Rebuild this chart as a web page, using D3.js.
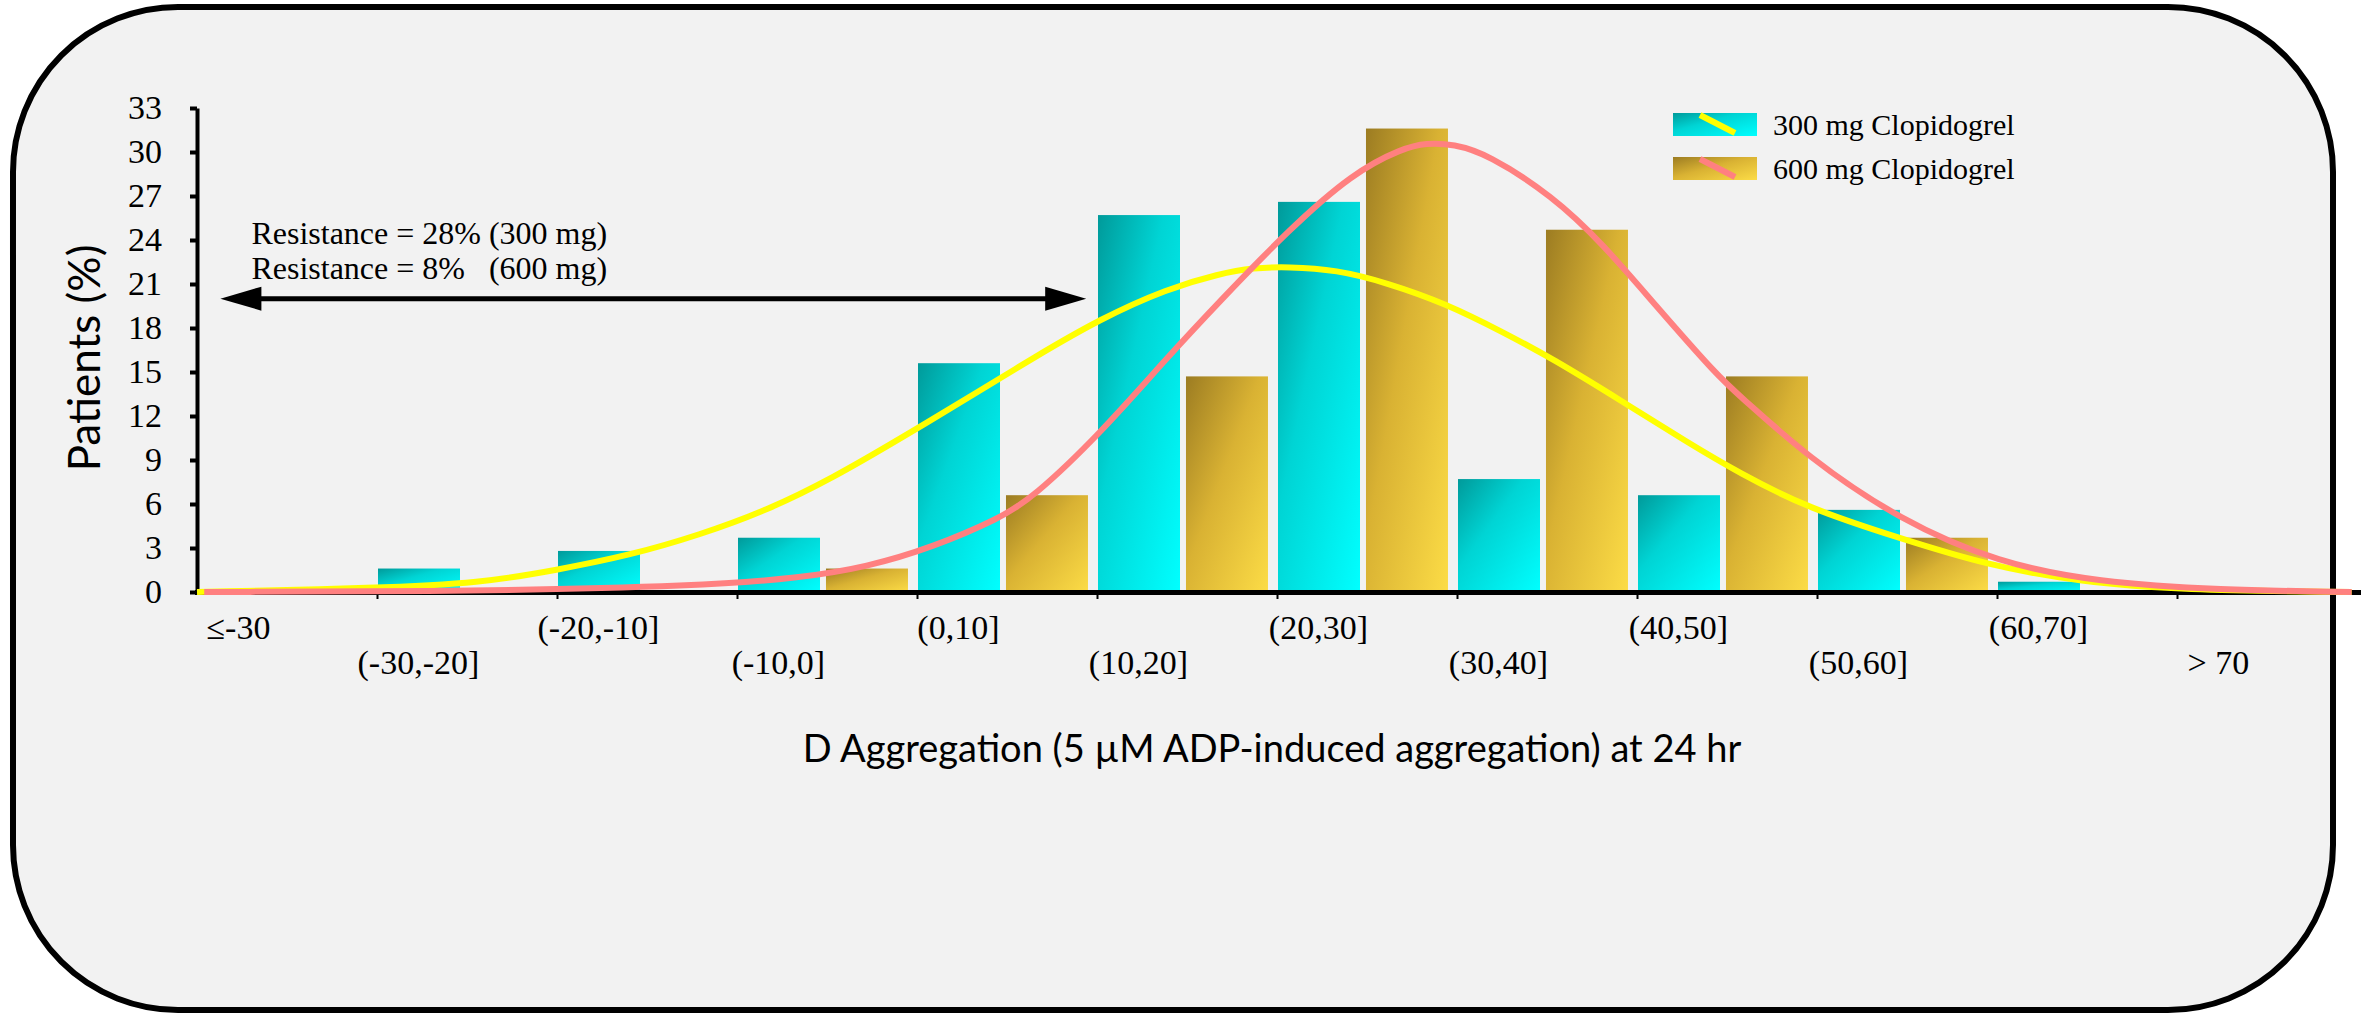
<!DOCTYPE html>
<html>
<head>
<meta charset="utf-8">
<script src="https://cdn.jsdelivr.net/npm/d3@7"></script>
<style>
  html, body { margin: 0; padding: 0; background: #ffffff; }
  svg { display: block; }
</style>
</head>
<body>
<svg id="chart" width="2361" height="1017"></svg>
<script>
// Aggregation change bins (x categories)
const categories = ["≤-30", "(-30,-20]", "(-20,-10]", "(-10,0]", "(0,10]", "(10,20]",
                    "(20,30]", "(30,40]", "(40,50]", "(50,60]", "(60,70]", "> 70"];

// Patients (%) per bin
const clop300 = [0, 1.6, 2.8, 3.7, 15.6, 25.7, 26.6, 7.7, 6.6, 5.6, 0.7, 0];
const clop600 = [0, 0, 0, 1.6, 6.6, 14.7, 31.6, 24.7, 14.7, 3.7, 0, 0];

// Fitted distribution curves: [position along the bin axis (bins), patients %]
const fit300 = [[0, 0], [1.02, 0.27], [1.57, 0.61], [2.0, 1.5], [2.41, 2.52], [2.79, 3.88],
  [3.17, 5.58], [3.53, 7.76], [3.91, 10.48], [4.37, 13.88], [4.64, 15.92], [5.02, 18.64],
  [5.39, 20.68], [5.68, 21.7], [5.87, 22.11], [6.06, 22.18], [6.33, 21.97], [6.61, 21.09],
  [6.94, 19.66], [7.26, 17.69], [7.53, 15.92], [7.91, 13.06], [8.28, 10.2], [8.57, 8.1],
  [8.95, 5.71], [9.46, 3.67], [9.94, 1.84], [10.47, 0.68], [11.01, 0.14], [11.97, 0]];
const fit600 = [[0.04, 0], [1.57, 0.05], [2.79, 0.41], [3.35, 0.95], [3.72, 1.7], [4.09, 3.06],
  [4.46, 5.03], [4.64, 6.39], [5.02, 10.82], [5.39, 15.99], [5.68, 19.8], [6.06, 24.63],
  [6.42, 28.57], [6.7, 30.27], [6.83, 30.61], [6.98, 30.54], [7.17, 29.86], [7.53, 27.01],
  [7.81, 23.74], [8.09, 19.73], [8.46, 14.56], [8.57, 13.4], [8.95, 9.18], [9.46, 4.9],
  [10.01, 1.97], [10.56, 0.68], [11.23, 0.14], [11.97, 0]];

const yTicks = [0, 3, 6, 9, 12, 15, 18, 21, 24, 27, 30, 33];
const seriesNames = ["300 mg Clopidogrel", "600 mg Clopidogrel"];
const annotationLines = ["Resistance = 28% (300 mg)", "Resistance = 8%", "(600 mg)"];
const resistanceSpan = [0.13, 4.94];   // arrow extent along the bin axis
const resistanceLevel = 20;            // arrow height on the % axis

const W = 2361, H = 1017;
const svg = d3.select("#chart");
const SERIF = "'Liberation Serif', 'Times New Roman', serif";
const SANS = "Lato, 'Open Sans', sans-serif";

// Panel with rounded corners
svg.append("rect")
  .attr("x", 13).attr("y", 7).attr("width", 2320).attr("height", 1003)
  .attr("rx", 165).attr("ry", 165)
  .attr("fill", "#f2f2f2").attr("stroke", "#000").attr("stroke-width", 6);

// Gradients
const defs = svg.append("defs");
function grad(id, stops) {
  const g = defs.append("linearGradient").attr("id", id)
    .attr("x1", 0).attr("y1", 0).attr("x2", 1).attr("y2", 1);
  stops.forEach(s => g.append("stop").attr("offset", s[0]).attr("stop-color", s[1]));
}
grad("gCyan", [[0, "#009a9a"], [0.4, "#00d4d4"], [1, "#00ffff"]]);
grad("gGold", [[0, "#9c7c22"], [0.45, "#d9b233"], [1, "#fcdc46"]]);
const fills = ["url(#gCyan)", "url(#gGold)"];
const lineColors = ["#ffff00", "#ff8080"];

// Scales
const x0 = 197, x1 = 2357;
const x = d3.scaleBand().domain(categories).range([x0, x1]).paddingInner(0).paddingOuter(0);
const xSub = d3.scaleBand().domain([0, 1]).range([0, x.bandwidth()])
  .paddingInner(0.068).paddingOuter(0.057).align(0.1);
const xPos = d3.scaleLinear().domain([0, categories.length]).range([x0, x1]);
const y = d3.scaleLinear().domain([0, 33]).range([592, 108]);

// Y axis
const yAxis = svg.append("g").attr("transform", `translate(${x0},0)`)
  .call(d3.axisLeft(y).tickValues(yTicks).tickSize(7).tickSizeOuter(0).tickPadding(28));
yAxis.select(".domain").attr("stroke", "#000").attr("stroke-width", 4);
yAxis.selectAll(".tick line").attr("stroke", "#000").attr("stroke-width", 4);
yAxis.selectAll(".tick text").attr("font-family", SERIF).attr("font-size", 34).attr("fill", "#000");

// Bars
const rows = categories.map((c, i) => ({ c, v: [clop300[i], clop600[i]] }));
const grp = svg.append("g").selectAll("g").data(rows).join("g")
  .attr("transform", d => `translate(${x(d.c)},0)`);
grp.selectAll("rect").data(d => d.v.map((v, k) => ({ v, k }))).join("rect")
  .attr("x", d => xSub(d.k)).attr("width", xSub.bandwidth())
  .attr("y", d => y(d.v)).attr("height", d => y(0) - y(d.v))
  .attr("fill", d => fills[d.k]);

// X axis line with small ticks at bin boundaries
svg.append("line").attr("x1", x0 - 2).attr("x2", W).attr("y1", y(0) + 0.5).attr("y2", y(0) + 0.5)
  .attr("stroke", "#000").attr("stroke-width", 5);
const xAxis = svg.append("g").attr("transform", `translate(0,${y(0) + 3})`)
  .call(d3.axisBottom(xPos).tickValues(d3.range(1, categories.length)).tickSize(4).tickFormat(""));
xAxis.select(".domain").remove();
xAxis.selectAll(".tick line").attr("stroke", "#000").attr("stroke-width", 2);

// Bin labels, staggered on two rows
svg.append("g").selectAll("text").data(categories).join("text")
  .attr("x", d => x(d) + x.bandwidth() * 0.23)
  .attr("y", (d, i) => i % 2 === 0 ? 639 : 674)
  .attr("text-anchor", "middle")
  .attr("font-family", SERIF).attr("font-size", 34).attr("fill", "#000")
  .text(d => d);

// Fitted curves
const line = d3.line().x(d => xPos(d[0])).y(d => y(d[1])).curve(d3.curveBasis);
[fit300, fit600].forEach((pts, k) => {
  svg.append("path").datum(pts).attr("d", line)
    .attr("fill", "none").attr("stroke", lineColors[k]).attr("stroke-width", 6);
});

// Resistance arrow and labels
const ay = y(resistanceLevel);
const ax1 = xPos(resistanceSpan[0]), ax2 = xPos(resistanceSpan[1]);
svg.append("line").attr("x1", ax1 + 30).attr("x2", ax2 - 30).attr("y1", ay).attr("y2", ay)
  .attr("stroke", "#000").attr("stroke-width", 5);
svg.append("path").attr("fill", "#000")
  .attr("d", `M${ax1},${ay} L${ax1 + 41},${ay - 12} L${ax1 + 41},${ay + 12} Z`);
svg.append("path").attr("fill", "#000")
  .attr("d", `M${ax2},${ay} L${ax2 - 41},${ay - 12} L${ax2 - 41},${ay + 12} Z`);

const tx = ax1 + 31;
const t1 = svg.append("text").attr("x", tx).attr("y", ay - 55)
  .attr("font-family", SERIF).attr("font-size", 32).attr("fill", "#000")
  .text(annotationLines[0]);
svg.append("text").attr("x", tx).attr("y", ay - 20)
  .attr("font-family", SERIF).attr("font-size", 32).attr("fill", "#000")
  .text(annotationLines[1]);
const parenIdx = annotationLines[0].indexOf("(");
const parenX = t1.node().getStartPositionOfChar(parenIdx).x;
svg.append("text").attr("x", parenX).attr("y", ay - 20)
  .attr("font-family", SERIF).attr("font-size", 32).attr("fill", "#000")
  .text(annotationLines[2]);

// Legend
const lg = svg.append("g");
seriesNames.forEach((name, k) => {
  const ly = 113 + k * 44;
  lg.append("rect").attr("x", 1673).attr("y", ly).attr("width", 84).attr("height", 23)
    .attr("fill", fills[k]);
  lg.append("line").attr("x1", 1700).attr("y1", ly + 2).attr("x2", 1735).attr("y2", ly + 20)
    .attr("stroke", lineColors[k]).attr("stroke-width", 6);
  lg.append("text").attr("x", 1773).attr("y", ly + 22)
    .attr("font-family", SERIF).attr("font-size", 30).attr("fill", "#000")
    .text(name);
});

// Axis titles
svg.append("text").attr("transform", "translate(100,358) rotate(-90)")
  .attr("text-anchor", "middle").attr("font-family", SANS).attr("font-size", 44).attr("fill", "#000")
  .text("Patients (%)");
svg.append("text").attr("x", 1272).attr("y", 762)
  .attr("text-anchor", "middle").attr("font-family", SANS).attr("font-size", 38).attr("fill", "#000")
  .text("D Aggregation (5 µM ADP-induced aggregation) at 24 hr");
</script>
</body>
</html>
